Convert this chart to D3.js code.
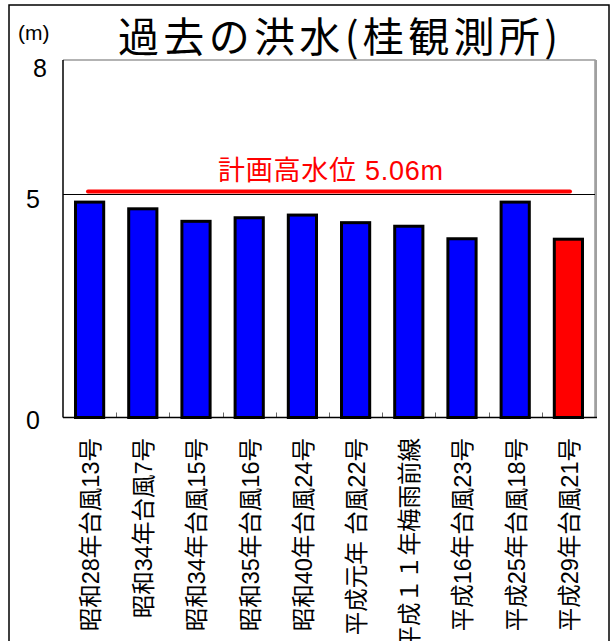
<!DOCTYPE html>
<html>
<head>
<meta charset="utf-8">
<script src="https://cdn.jsdelivr.net/npm/d3@7"></script>
<style>
  html, body { margin: 0; padding: 0; background: #fff; }
  svg { display: block; }
  text { font-family: "Liberation Sans", Arial, "Noto Sans CJK JP", sans-serif; }
</style>
</head>
<body>
<svg id="chart" width="613" height="641"></svg>
<script>
// Past floods recorded at the Katsura gauging station
const floods = [
  "昭和28年台風13号", "昭和34年台風7号", "昭和34年台風15号", "昭和35年台風16号",
  "昭和40年台風24号", "平成元年 台風22号", "平成１１年梅雨前線", "平成16年台風23号",
  "平成25年台風18号", "平成29年台風21号"
];
// Peak water level (m)
const peakLevels = [4.82, 4.67, 4.39, 4.47, 4.53, 4.36, 4.28, 4.00, 4.82, 3.99];
// Most recent event, shown in red
const latestFlood = "平成29年台風21号";
// Design high water level (m)
const planLevel = 5.06;
const planLabel = "計画高水位 5.06m";
const yTicks = [0, 5, 8];
const titleText = "過去の洪水(桂観測所)";
const unitText = "(m)";

const svg = d3.select("#chart");
const plot = { left: 63, right: 595, top: 60, bottom: 417.5 };

const x = d3.scaleBand()
  .domain(floods)
  .range([plot.left, plot.right])
  .paddingInner(0.47)
  .paddingOuter(0.235);

const y = d3.scaleLinear().domain([0, 8]).range([plot.bottom, plot.top]);

// outer frame
svg.append("rect")
  .attr("x", 9).attr("y", 5).attr("width", 600).attr("height", 660)
  .attr("fill", "none").attr("stroke", "#000").attr("stroke-width", 1.5);

// title and unit
svg.append("text")
  .attr("x", 118).attr("y", 52)
  .attr("font-size", 41)
  .attr("textLength", 440)
  .attr("lengthAdjust", "spacing")
  .style("font-family", "'Noto Sans CJK JP', sans-serif")
  .text(titleText);

svg.append("text")
  .attr("x", 18).attr("y", 40)
  .attr("font-size", 21)
  .text(unitText);

// plot area border (grey) on top and right
svg.append("path")
  .attr("d", `M${plot.left},${plot.top}H${plot.right}V${plot.bottom}`)
  .attr("fill", "none").attr("stroke", "#9a9a9a").attr("stroke-width", 1.5);
svg.append("line")
  .attr("x1", plot.right + 1).attr("x2", plot.right + 1)
  .attr("y1", plot.top).attr("y2", plot.bottom)
  .attr("stroke", "#a0a0a0").attr("stroke-width", 2);

// gridline at 5 m
svg.append("line")
  .attr("x1", plot.left).attr("x2", plot.right)
  .attr("y1", Math.round(y(5)) + 0.5).attr("y2", Math.round(y(5)) + 0.5)
  .attr("stroke", "#000").attr("stroke-width", 1);

// y tick labels
const yLabelX = { 0: 33, 5: 33, 8: 40 };
const yLabelDy = { 0: 11, 5: 14, 8: 17 };
svg.append("g").selectAll("text")
  .data(yTicks)
  .join("text")
  .attr("x", d => yLabelX[d])
  .attr("y", d => y(d) + yLabelDy[d])
  .attr("text-anchor", "middle")
  .attr("font-size", 25)
  .text(d => d);

// bars
svg.append("g").selectAll("rect")
  .data(floods)
  .join("rect")
  .attr("x", d => x(d))
  .attr("y", (d, i) => y(peakLevels[i]))
  .attr("width", x.bandwidth())
  .attr("height", (d, i) => y(0) - y(peakLevels[i]))
  .attr("fill", d => d === latestFlood ? "#ff0000" : "#0000ff")
  .attr("stroke", "#000")
  .attr("stroke-width", 3);

// small category ticks on the baseline
const step = x.step();
const boundaries = d3.range(1, floods.length).map(i => plot.left + i * step);
svg.append("g").selectAll("line")
  .data(boundaries)
  .join("line")
  .attr("x1", d => Math.round(d) + 0.5).attr("x2", d => Math.round(d) + 0.5)
  .attr("y1", plot.bottom).attr("y2", plot.bottom - 5)
  .attr("stroke", "#666").attr("stroke-width", 1);

// axes lines (black) left and bottom
svg.append("line")
  .attr("x1", plot.left).attr("x2", plot.left)
  .attr("y1", plot.top).attr("y2", plot.bottom)
  .attr("stroke", "#000").attr("stroke-width", 1.5);
svg.append("line")
  .attr("x1", plot.left).attr("x2", plot.right + 2)
  .attr("y1", plot.bottom).attr("y2", plot.bottom)
  .attr("stroke", "#000").attr("stroke-width", 1.5);

// design high water level line
svg.append("line")
  .attr("x1", 88).attr("x2", 570)
  .attr("y1", y(planLevel)).attr("y2", y(planLevel))
  .attr("stroke", "#ff0000").attr("stroke-width", 4)
  .attr("stroke-linecap", "round");
svg.append("text")
  .attr("x", 218).attr("y", 180)
  .attr("font-size", 27)
  .attr("textLength", 225)
  .attr("lengthAdjust", "spacing")
  .attr("fill", "#ff0000")
  .text(planLabel);

// category labels, rotated
svg.append("g").selectAll("text")
  .data(floods)
  .join("text")
  .attr("transform", d => `translate(${x(d) + x.bandwidth() / 2 + 1},438) rotate(-90)`)
  .attr("text-anchor", "end")
  .attr("dy", "0.36em")
  .attr("font-size", 23.5)
  .text(d => d);
</script>
</body>
</html>
